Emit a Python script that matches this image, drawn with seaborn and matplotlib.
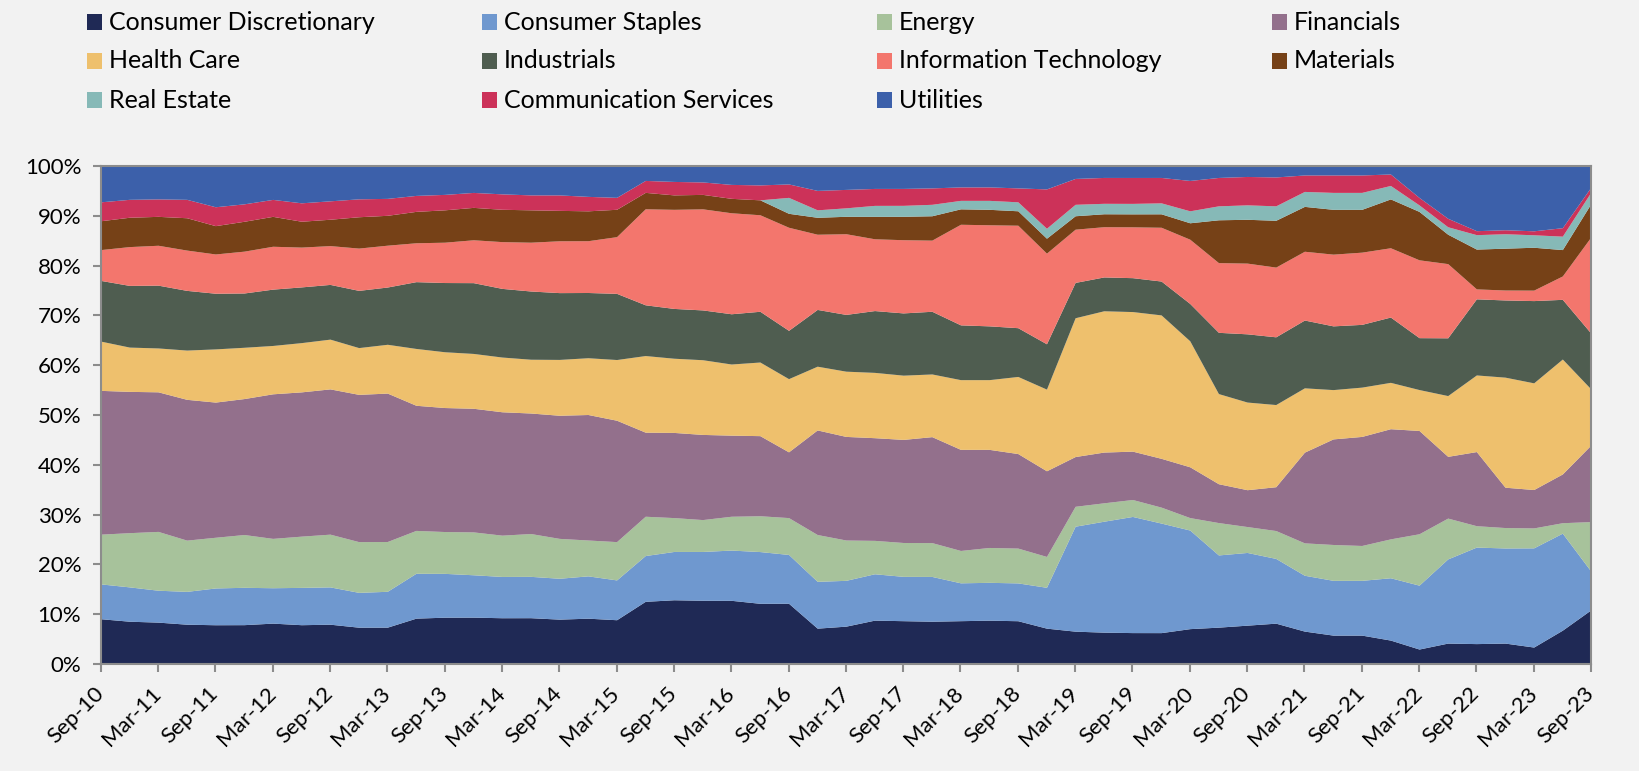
import numpy as np
import pandas as pd
import matplotlib.pyplot as plt
import seaborn as sns
from matplotlib.patches import Rectangle
from matplotlib.ticker import PercentFormatter

# Quarterly sector weights (%), Sep-10 .. Sep-23
quarters = pd.date_range("2010-09-30", periods=53, freq=pd.offsets.QuarterEnd())

consumer_disc = [9.1, 8.6, 8.4, 8.0, 7.9, 7.9, 8.2, 7.9, 8.0, 7.4,
                 7.4, 9.2, 9.4, 9.4, 9.3, 9.3, 9.0, 9.2, 8.9, 12.6,
                 12.9, 12.8, 12.8, 12.2, 12.2, 7.2, 7.6, 8.8, 8.7, 8.6,
                 8.7, 8.8, 8.7, 7.2, 6.6, 6.4, 6.3, 6.3, 7.1, 7.4,
                 7.8, 8.2, 6.6, 5.8, 5.8, 4.8, 3.0, 4.2, 4.1, 4.2,
                 3.4, 6.8, 10.9]
consumer_staples = [7.0, 6.9, 6.4, 6.6, 7.4, 7.5, 7.1, 7.5, 7.5, 7.0,
                    7.2, 9.0, 8.8, 8.5, 8.3, 8.3, 8.2, 8.5, 8.0, 9.2,
                    9.7, 9.8, 10.1, 10.4, 9.8, 9.4, 9.2, 9.3, 8.9, 9.0,
                    7.6, 7.6, 7.6, 8.2, 21.1, 22.3, 23.3, 22.0, 19.8, 14.5,
                    14.6, 13.0, 11.2, 11.0, 11.0, 12.5, 12.8, 16.9, 19.4, 19.1,
                    19.9, 19.5, 7.7]
energy = [10.0, 10.9, 11.8, 10.3, 10.2, 10.6, 9.9, 10.3, 10.6, 10.2,
          10.0, 8.6, 8.4, 8.6, 8.3, 8.6, 8.0, 7.2, 7.7, 7.9,
          6.8, 6.4, 6.8, 7.2, 7.4, 9.4, 8.1, 6.7, 6.8, 6.8,
          6.5, 7.0, 7.0, 6.2, 4.0, 3.7, 3.4, 3.2, 2.5, 6.5,
          5.2, 5.6, 6.5, 7.2, 7.0, 7.8, 10.3, 8.2, 4.3, 4.1,
          4.0, 2.1, 10.0]
financials = [28.9, 28.4, 28.0, 28.3, 27.2, 27.3, 29.0, 29.0, 29.2, 29.6,
              29.8, 25.1, 24.9, 24.8, 24.8, 24.2, 24.7, 25.2, 24.4, 16.9,
              17.1, 17.1, 16.3, 16.1, 13.2, 21.0, 20.8, 20.6, 20.7, 21.3,
              20.3, 19.7, 19.0, 17.2, 10.0, 10.2, 9.7, 9.8, 10.2, 7.8,
              7.4, 8.8, 18.2, 21.2, 21.9, 22.1, 20.7, 12.4, 14.9, 8.1,
              7.7, 9.8, 15.4]
health_care = [9.9, 8.9, 8.8, 9.9, 10.7, 10.3, 9.7, 9.9, 10.0, 9.4,
               9.8, 11.4, 11.2, 11.0, 11.0, 10.8, 11.2, 11.4, 12.2, 15.4,
               14.9, 15.0, 14.3, 14.8, 14.7, 12.8, 13.1, 13.1, 12.9, 12.6,
               14.0, 14.0, 15.5, 16.4, 27.9, 28.4, 28.0, 28.8, 25.3, 18.1,
               17.6, 16.5, 12.9, 9.9, 9.9, 9.3, 8.2, 12.2, 15.4, 22.1,
               21.4, 23.1, 11.2]
industrials = [12.2, 12.4, 12.6, 12.0, 11.2, 10.9, 11.3, 11.2, 11.0, 11.5,
               11.5, 13.4, 13.9, 14.2, 13.8, 13.7, 13.4, 13.1, 13.3, 10.2,
               10.0, 10.0, 10.1, 10.2, 9.7, 11.4, 11.4, 12.4, 12.5, 12.6,
               11.0, 10.8, 9.8, 9.1, 7.1, 6.8, 6.8, 6.8, 7.5, 12.3,
               13.7, 13.6, 13.6, 12.8, 12.6, 13.1, 10.4, 11.6, 15.3, 15.5,
               16.5, 12.0, 11.2]
info_tech = [6.2, 7.8, 8.0, 8.1, 7.9, 8.4, 8.6, 8.0, 7.8, 8.5,
             8.4, 7.8, 8.1, 8.6, 9.4, 9.8, 10.4, 10.4, 11.4, 19.3,
             19.9, 20.3, 20.3, 19.4, 20.7, 15.1, 16.2, 14.4, 14.7, 14.3,
             20.2, 20.3, 20.6, 18.2, 10.7, 10.1, 10.2, 10.8, 12.9, 14.0,
             14.2, 14.0, 13.8, 14.4, 14.5, 13.9, 15.6, 14.9, 2.0, 2.0,
             2.1, 4.7, 19.4]
materials = [5.8, 5.9, 5.8, 6.5, 5.7, 6.0, 6.0, 5.2, 5.3, 6.3,
             6.0, 6.3, 6.5, 6.5, 6.5, 6.5, 6.1, 6.0, 5.5, 3.3,
             2.9, 2.9, 2.9, 3.0, 2.8, 3.4, 3.5, 4.5, 4.7, 4.9,
             3.1, 3.1, 2.9, 3.0, 2.7, 2.6, 2.6, 2.7, 3.3, 8.6,
             8.8, 9.4, 9.0, 9.0, 8.6, 9.8, 9.7, 5.9, 8.0, 8.4,
             8.6, 5.3, 6.7]
real_estate = [0.0, 0.0, 0.0, 0.0, 0.0, 0.0, 0.0, 0.0, 0.0, 0.0,
               0.0, 0.0, 0.0, 0.0, 0.0, 0.0, 0.0, 0.0, 0.0, 0.0,
               0.0, 0.0, 0.0, 0.0, 3.2, 1.5, 1.7, 2.2, 2.2, 2.3,
               1.7, 1.8, 1.8, 2.0, 2.3, 2.1, 2.1, 2.2, 2.4, 2.8,
               2.9, 2.9, 3.0, 3.4, 3.4, 2.7, 1.3, 1.5, 2.9, 2.9,
               2.5, 2.7, 2.3]
comm_services = [3.8, 3.6, 3.5, 3.7, 3.8, 3.5, 3.4, 3.7, 3.7, 3.6,
                 3.4, 3.2, 3.1, 3.0, 3.1, 3.0, 3.1, 2.9, 2.4, 2.4,
                 2.7, 2.5, 2.8, 3.0, 2.7, 3.9, 3.7, 3.4, 3.4, 3.3,
                 2.7, 2.7, 2.8, 7.9, 5.2, 5.2, 5.2, 5.1, 6.1, 5.7,
                 5.7, 5.8, 3.3, 3.5, 3.5, 2.3, 1.5, 1.7, 0.8, 0.8,
                 0.8, 1.7, 1.0]
utilities = [7.2, 6.7, 6.6, 6.7, 8.2, 7.6, 6.7, 7.4, 7.0, 6.6,
             6.5, 5.9, 5.7, 5.3, 5.6, 5.8, 5.8, 6.1, 6.3, 2.9,
             3.1, 3.2, 3.7, 3.8, 3.6, 4.9, 4.7, 4.5, 4.5, 4.4,
             4.2, 4.2, 4.4, 4.6, 2.5, 2.3, 2.3, 2.3, 2.9, 2.3,
             2.1, 2.2, 1.8, 1.8, 1.8, 1.6, 6.3, 10.5, 13.0, 12.8,
             13.0, 12.4, 4.2]

df = pd.DataFrame({
    "Consumer Discretionary": consumer_disc,
    "Consumer Staples": consumer_staples,
    "Energy": energy,
    "Financials": financials,
    "Health Care": health_care,
    "Industrials": industrials,
    "Information Technology": info_tech,
    "Materials": materials,
    "Real Estate": real_estate,
    "Communication Services": comm_services,
    "Utilities": utilities,
}, index=quarters)

colors = ["#1F2955", "#6F98CF", "#A7C29B", "#93708C", "#EEC06D", "#4F5D50",
          "#F3766D", "#764117", "#86B9B7", "#CC3259", "#3C60AA"]

# 100% stacked
shares = df.div(df.sum(axis=1), axis=0)

sns.set_style("white")
plt.rcParams["font.family"] = ["Lato", "DejaVu Sans"]

bg = "#F2F2F2"
grey = "#8C8C8C"
W, H = 1640, 771

fig = plt.figure(figsize=(16.4, 7.71), dpi=100, facecolor=bg)
ax = fig.add_axes([100.7 / W, 1 - 664 / H, (1591 - 100.7) / W, (664 - 166) / H])
ax.set_facecolor(bg)

x = np.arange(len(shares))
ax.stackplot(x, shares.T.values, colors=colors, linewidth=0)

ax.set_xlim(0, len(x) - 1)
ax.set_ylim(0, 1)
ax.set_yticks(np.arange(0, 1.01, 0.1))
ax.yaxis.set_major_formatter(PercentFormatter(1.0, decimals=0))
ax.set_xticks(x[::2])
ax.set_xticklabels([d.strftime("%b-%y") for d in quarters[::2]],
                   rotation=45, ha="right", va="center", rotation_mode="anchor")

for s in ax.spines.values():
    s.set_color(grey)
    s.set_linewidth(1.5)
ax.tick_params(axis="both", direction="out", color=grey, width=1.5, length=6,
               labelsize=16, labelcolor="black")
ax.tick_params(axis="x", pad=13)
ax.tick_params(axis="y", pad=8)
ax.tick_params(left=True, bottom=True)

# legend laid out as a 4-column grid
for k, (name, c) in enumerate(zip(df.columns, colors)):
    row, col = divmod(k, 4)
    x0 = 87 + col * 395
    yc = 22 + row * 39
    fig.patches.append(Rectangle((x0 / W, 1 - (yc + 7.5) / H), 15 / W, 15 / H,
                                 transform=fig.transFigure, facecolor=c,
                                 edgecolor="none"))
    fig.text((x0 + 22) / W, 1 - yc / H, name, fontsize=18, va="center",
             ha="left", color="black")

fig.savefig("out.png", dpi=100, facecolor=bg)
